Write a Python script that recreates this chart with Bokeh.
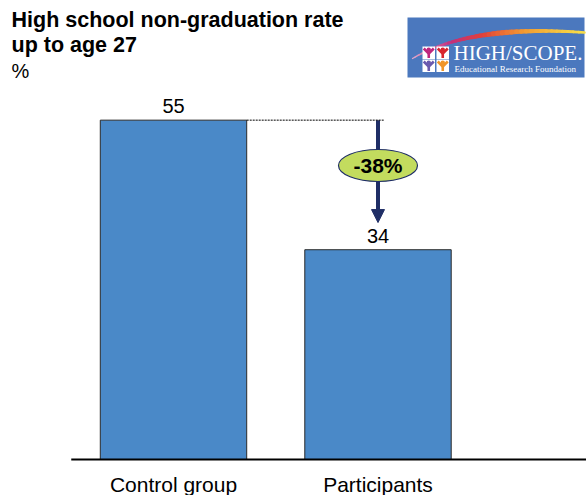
from bokeh.plotting import figure
from bokeh.models import Range1d, Arrow, NormalHead
from bokeh.core.properties import value
from bokeh.embed import file_html
from bokeh.resources import INLINE

# ---- data -------------------------------------------------------------
categories = ["Control group", "Participants"]
rates = [55, 34]                      # non-graduation rate, %
title_lines = ["High school non-graduation rate", "up to age 27"]
unit_label = "%"
logo_title = "HIGH/SCOPE."
logo_subtitle = "Educational Research Foundation"

# ---- layout -----------------------------------------------------------
W, H = 586, 495
BASE_PY = 459          # canvas row of the zero line
AXIS_LEFT_PX = 70.75   # canvas column of x = 0
PX_PER_CAT = 204.5     # pixels per category slot
PX_PER_PCT = 6.17      # pixels per percentage point
BAR_W = 0.716
BL = 0.38              # baseline correction, as a fraction of font size

FONT = value("Liberation Sans")
SERIF = value("Liberation Serif")
BAR_FILL = "#4A89C8"
NAVY = "#1F2E66"


def cx(px):
    """canvas column -> x data coordinate"""
    return (px - AXIS_LEFT_PX) / PX_PER_CAT


def cy(py):
    """canvas row -> y data coordinate"""
    return (BASE_PY - py) / PX_PER_PCT


def off(px_down, size):
    """pixel offset for an alphabetic baseline at a given font size"""
    return px_down - BL * size


p = figure(width=W, height=H, output_backend="svg", toolbar_location=None,
           x_range=Range1d(cx(0), cx(W)), y_range=Range1d(cy(H), cy(0)),
           x_axis_location=None, y_axis_location=None, min_border=0,
           outline_line_color=None, background_fill_color="white",
           border_fill_color="white")
p.grid.visible = False

xs = [i + 0.5 for i in range(len(categories))]
ctrl, part = rates

# bars
p.vbar(x=xs, top=rates, bottom=0, width=BAR_W, fill_color=BAR_FILL,
       line_color="#2a2a2a", line_width=1)

# zero line
p.segment(x0=[0], y0=[0], x1=[cx(W)], y1=[0], line_color="black", line_width=2)

# value labels above bars
p.text(x=xs, y=rates, text=[str(v) for v in rates], text_font=FONT,
       text_font_size="20px", text_align="center", text_baseline="alphabetic",
       y_offset=off(-6.5, 20), text_color="black")

# category labels under the zero line
p.text(x=xs, y=[0] * len(xs), text=categories, text_font=FONT,
       text_font_size="21px", text_align="center", text_baseline="alphabetic",
       y_offset=off(33, 21), text_color="black")

# dotted reference from the control bar top, arrow down to participants
p.segment(x0=[xs[0] + BAR_W / 2], y0=[ctrl], x1=[xs[1] + 0.03], y1=[ctrl],
          line_color="black", line_width=1, line_dash="2 1")
p.add_layout(Arrow(x_start=xs[1], y_start=ctrl, x_end=xs[1], y_end=part + 4.4,
                   line_color=NAVY, line_width=4, level="underlay",
                   end=NormalHead(size=13, fill_color=NAVY, line_color=NAVY)))

# change badge (drawn over the arrow shaft)
change_pct = round((part - ctrl) / ctrl * 100)
badge_y = cy(165)
p.ellipse(x=[xs[1]], y=[badge_y], width=79, height=32, width_units="screen",
          height_units="screen", fill_color="#C3DC5E", line_color=NAVY,
          line_width=1.2)
p.text(x=[xs[1]], y=[badge_y], text=[f"{change_pct}%"], text_font=FONT,
       text_font_size="21px", text_font_style="bold", text_align="center",
       text_baseline="alphabetic", y_offset=off(7.5, 21), text_color="black")

# title block
p.text(x=[cx(11)] * 2, y=[cy(27.5), cy(53)], text=title_lines, text_font=FONT,
       text_font_size="21.5px", text_font_style="bold", text_baseline="alphabetic",
       y_offset=off(0, 21.5), text_color="black")
p.text(x=[cx(11)], y=[cy(78)], text=[unit_label], text_font=FONT,
       text_font_size="20px", text_baseline="alphabetic", y_offset=off(0, 20),
       text_color="black")

# ---- logo -------------------------------------------------------------
p.quad(left=[cx(407)], right=[cx(584)], top=[cy(17)], bottom=[cy(77)],
       fill_color="#4B78BE", line_color=None)

# swoosh: quadratic curve broken into short coloured pieces
P0, P1, P2 = (412, 58), (470, 24), (584, 32)
stops = [(0.0, (226, 170, 205)), (0.3, (194, 48, 126)), (0.5, (226, 64, 58)),
         (0.72, (242, 154, 50)), (1.0, (248, 224, 74))]


def lerp_col(t):
    for (t0, c0), (t1, c1) in zip(stops[:-1], stops[1:]):
        if t <= t1:
            f = (t - t0) / (t1 - t0)
            return "#%02x%02x%02x" % tuple(int(a + (b - a) * f) for a, b in zip(c0, c1))
    return "#%02x%02x%02x" % stops[-1][1]


n = 40
pts = []
for k in range(n + 1):
    t = k / n
    x = (1 - t) ** 2 * P0[0] + 2 * (1 - t) * t * P1[0] + t ** 2 * P2[0]
    y = (1 - t) ** 2 * P0[1] + 2 * (1 - t) * t * P1[1] + t ** 2 * P2[1]
    pts.append((x, y))
seg_xs, seg_ys, seg_cols, seg_ws = [], [], [], []
for k in range(n):
    t = (k + 0.5) / n
    seg_xs.append([cx(pts[k][0]), cx(pts[k + 1][0])])
    seg_ys.append([cy(pts[k][1]), cy(pts[k + 1][1])])
    seg_cols.append(lerp_col(t))
    seg_ws.append(1.2 + 4.0 * (1 - abs(t - 0.6) / 0.6))
p.multi_line(xs=seg_xs, ys=seg_ys, line_color=seg_cols, line_width=seg_ws,
             line_cap="round")

# four little figures in white tiles
tiles = [(422, 46, "#C0267E"), (436, 46, "#D8262E"),
         (422, 59, "#6A5AAE"), (436, 59, "#F0962A")]
for tx, ty, col in tiles:
    p.quad(left=[cx(tx)], right=[cx(tx + 12.5)], top=[cy(ty)], bottom=[cy(ty + 12.5)],
           fill_color="white", line_color=None)
    mx = tx + 6.25
    p.multi_line(xs=[[cx(mx - 5), cx(mx), cx(mx + 5)], [cx(mx), cx(mx)]],
                 ys=[[cy(ty + 2), cy(ty + 7), cy(ty + 2)], [cy(ty + 7), cy(ty + 11.5)]],
                 line_color=col, line_width=2.6)
    p.scatter(x=[cx(mx)], y=[cy(ty + 3.2)], size=4.5, marker="circle",
              fill_color=col, line_color=None)

p.text(x=[cx(453)], y=[cy(60)], text=[logo_title], text_font=SERIF,
       text_font_size="21px", text_baseline="alphabetic", y_offset=off(0, 21),
       text_color="white")
p.text(x=[cx(454)], y=[cy(71.5)], text=[logo_subtitle], text_font=SERIF,
       text_font_size="9px", text_baseline="alphabetic", y_offset=off(0, 9),
       text_color="white")

open("out.html", "w").write(file_html(p, INLINE))
